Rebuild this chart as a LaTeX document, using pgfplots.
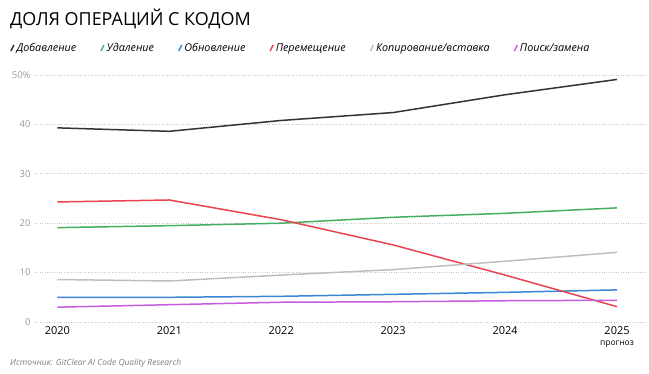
\documentclass[border=0pt]{standalone}
\usepackage{pgfplots}
\pgfplotsset{compat=1.18}
\usepackage{fontspec}
\setmainfont{Open Sans}
\definecolor{cadd}{HTML}{333333}
\definecolor{cdel}{HTML}{45AE62}
\definecolor{cupd}{HTML}{3A86D4}
\definecolor{cmov}{HTML}{E8434F}
\definecolor{ccopy}{HTML}{BDBDBD}
\definecolor{cfind}{HTML}{C65BDB}
\definecolor{gridc}{HTML}{C8C8C8}
\begin{document}
\begin{tikzpicture}
\useasboundingbox (0,0) rectangle (649bp,374bp);
\begin{axis}[
  at={(35bp,52bp)}, anchor=south west,
  scale only axis, width=610bp, height=247bp,
  xmin=2019.8, xmax=2025.25, ymin=0, ymax=50,
  axis line style={draw=none},
  tick style={draw=none},
  ymajorgrids, grid style={gridc, dotted, line width=0.7pt},
  ytick={0,10,20,30,40,50},
  yticklabels={0,10,20,30,40,50\%},
  yticklabel style={font=\fontsize{9.5}{10}\selectfont, text=gray!80, xshift=-1bp},
  xtick={2020,2021,2022,2023,2024,2025},
  xticklabels={2020,2021,2022,2023,2024,{2025\\[-1pt]{\fontsize{8.5}{9}\selectfont прогноз}}},
  xticklabel style={font=\fontsize{11}{12}\selectfont, text=black, align=center, anchor=north, yshift=-1bp},
  legend columns=-1,
  legend style={at={(-25bp,274bp)}, anchor=west, draw=none, fill=none,
    font=\fontsize{10.8}{12}\selectfont\itshape, inner sep=0pt,
    /tikz/every even column/.append style={column sep=22bp}},
  legend image code/.code={\draw[#1, line width=1.4pt] (2pt,-3pt) -- (5pt,3pt);},
  legend cell align=left,
  every axis plot/.append style={line width=1.5pt},
  clip=false,
]
\addplot[cadd] coordinates {(2020,39.3) (2021,38.6) (2022,40.8) (2023,42.4) (2024,46.0) (2025,49.1)};
\addlegendentry{Добавление}
\addplot[cdel] coordinates {(2020,19.1) (2021,19.5) (2022,20.0) (2023,21.2) (2024,22.0) (2025,23.1)};
\addlegendentry{Удаление}
\addplot[cupd] coordinates {(2020,5.0) (2021,5.0) (2022,5.2) (2023,5.6) (2024,6.0) (2025,6.5)};
\addlegendentry{Обновление}
\addplot[cmov] coordinates {(2020,24.3) (2021,24.7) (2022,20.7) (2023,15.6) (2024,9.5) (2025,3.1)};
\addlegendentry{Перемещение}
\addplot[ccopy] coordinates {(2020,8.6) (2021,8.3) (2022,9.5) (2023,10.6) (2024,12.3) (2025,14.1)};
\addlegendentry{Копирование/вставка}
\addplot[cfind] coordinates {(2020,3.0) (2021,3.5) (2022,4.0) (2023,4.1) (2024,4.3) (2025,4.4)};
\addlegendentry{Поиск/замена}
\end{axis}
\node[anchor=base west, inner sep=0pt, font=\fontsize{18}{19}\selectfont] at (10bp,348bp) {ДОЛЯ ОПЕРАЦИЙ С КОДОМ};
\node[anchor=base west, inner sep=0pt, font=\fontsize{8.5}{9}\selectfont\itshape, text=gray] at (10bp,9bp) {Источник: GitClear AI Code Quality Research};
\end{tikzpicture}
\end{document}
